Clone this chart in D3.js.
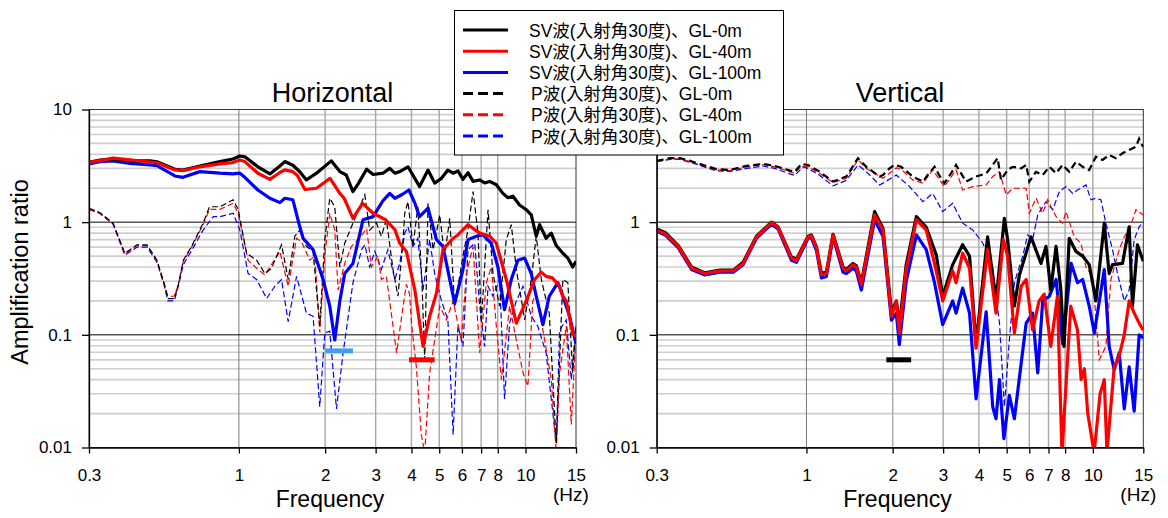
<!DOCTYPE html>
<html>
<head>
 <meta charset="UTF-8">
 <title>Amplification ratio</title>
 <script src="https://d3js.org/d3.v7.min.js"></script>
 <style>
  body { margin: 0; background: #fff; }
  text { font-family: "Liberation Sans", Arial, "Noto Sans CJK JP", sans-serif; fill: #000; }
 </style>
</head>
<body>
<script type="text/javascript">
var freqTicks = [0.3, 1, 2, 3, 4, 5, 6, 7, 8, 10, 15];
var freqLabels = ["0.3", "1", "2", "3", "4", "5", "6", "7", "8", "10", "15"];
var freqGrid = [1, 2, 3, 4, 5, 6, 7, 8, 10];
var ampTicks = [10, 1, 0.1, 0.01];
var ampLabels = ["10", "1", "0.1", "0.01"];
var ampMajor = [1, 0.1];
var ampMinor = [0.02, 0.03, 0.04, 0.05, 0.06, 0.07, 0.08, 0.09,
                0.2, 0.3, 0.4, 0.5, 0.6, 0.7, 0.8, 0.9,
                2, 3, 4, 5, 6, 7, 8, 9];

var legendLabels = ["SV波(入射角30度)、GL-0m", "SV波(入射角30度)、GL-40m", "SV波(入射角30度)、GL-100m",
                    "P波(入射角30度)、GL-0m", "P波(入射角30度)、GL-40m", "P波(入射角30度)、GL-100m"];
var legendColors = ["#000000", "#ff0000", "#0000ff", "#000000", "#ff0000", "#0000ff"];
var legendDashed = [false, false, false, true, true, true];

// Horizontal: [frequency Hz, amplification]
var hSv0 = [[0.30,3.4],[0.327,3.55],[0.364,3.63],[0.417,3.5],[0.49,3.5],[0.518,3.44],[0.598,2.95],[0.638,2.9],[0.731,3.15],[0.859,3.45],[0.953,3.64],[1.008,3.87],[1.049,3.8],[1.165,3.1],[1.283,2.68],[1.39,3.15],[1.447,3.45],[1.543,3.2],[1.631,2.8],[1.72,2.37],[1.866,2.72],[2.10,3.5],[2.25,2.81],[2.37,2.62],[2.50,1.87],[2.61,2.2],[2.79,2.95],[2.94,2.65],[3.18,2.72],[3.36,3.0],[3.50,2.72],[3.64,2.81],[3.89,3.1],[4.27,2.07],[4.57,2.9],[4.82,2.22],[5.09,2.45],[5.36,2.9],[5.59,2.72],[5.81,2.85],[6.05,2.4],[6.30,2.75],[6.56,2.3],[6.92,2.37],[7.20,2.23],[7.50,2.3],[7.91,2.15],[8.34,1.8],[8.68,1.65],[9.04,1.7],[9.53,1.42],[10.06,1.29],[10.47,1.16],[10.9,0.75],[11.2,0.95],[11.8,0.72],[12.3,0.8],[12.8,0.62],[13.5,0.53],[14.05,0.48],[14.6,0.40],[15,0.45]];
var hSv40 = [[0.30,3.38],[0.364,3.7],[0.417,3.57],[0.518,3.37],[0.598,2.91],[0.638,2.87],[0.731,3.1],[0.859,3.29],[0.953,3.38],[1.008,3.57],[1.049,3.45],[1.165,2.72],[1.283,2.4],[1.39,2.76],[1.447,2.91],[1.543,2.81],[1.60,2.6],[1.70,1.95],[1.866,2.0],[2.08,2.45],[2.25,1.8],[2.33,1.63],[2.50,1.08],[2.70,1.47],[2.94,1.2],[3.25,1.05],[3.50,0.86],[3.64,0.65],[3.84,0.55],[4.11,0.25],[4.39,0.079],[4.63,0.146],[4.89,0.234],[5.15,0.57],[5.59,0.72],[5.81,0.77],[6.30,0.95],[6.92,0.80],[7.50,0.75],[7.91,0.65],[8.57,0.31],[9.29,0.127],[10.06,0.2],[10.76,0.31],[11.35,0.36],[11.8,0.33],[12.4,0.32],[13.15,0.27],[13.5,0.22],[13.87,0.2],[14.6,0.104],[15,0.096]];
var hSv100 = [[0.30,3.29],[0.327,3.44],[0.364,3.5],[0.417,3.33],[0.49,3.22],[0.518,3.18],[0.598,2.57],[0.638,2.5],[0.731,2.81],[0.859,2.72],[0.953,2.68],[1.008,2.72],[1.049,2.5],[1.165,1.93],[1.283,1.63],[1.39,1.49],[1.447,1.63],[1.543,1.58],[1.631,0.91],[1.675,0.72],[1.815,0.57],[1.967,0.31],[2.075,0.18],[2.16,0.09],[2.25,0.2],[2.34,0.35],[2.50,0.43],[2.71,1.05],[2.94,1.12],[3.18,1.55],[3.36,1.8],[3.50,1.63],[3.7,1.75],[3.92,1.93],[4.1,1.5],[4.27,1.12],[4.57,1.33],[4.89,0.70],[5.15,0.61],[5.66,0.19],[6.05,0.38],[6.30,0.70],[6.74,0.75],[7.10,0.77],[7.60,0.65],[8.01,0.40],[8.45,0.167],[8.92,0.31],[9.4,0.46],[9.93,0.48],[10.47,0.35],[10.9,0.22],[11.5,0.123],[12.1,0.22],[12.97,0.29],[13.5,0.22],[14.25,0.146],[15,0.083]];
var hP0 = [[0.30,1.33],[0.327,1.22],[0.364,0.98],[0.40,0.53],[0.441,0.63],[0.478,0.63],[0.518,0.46],[0.55,0.28],[0.565,0.21],[0.595,0.21],[0.615,0.28],[0.64,0.46],[0.684,0.61],[0.75,0.98],[0.79,1.37],[0.859,1.37],[0.955,1.58],[0.994,1.3],[1.064,0.53],[1.153,0.46],[1.232,0.35],[1.30,0.39],[1.409,0.63],[1.486,0.31],[1.567,0.75],[1.631,0.85],[1.72,0.61],[1.815,0.55],[1.915,0.119],[1.994,0.70],[2.075,1.63],[2.16,1.37],[2.25,0.40],[2.34,0.65],[2.50,0.98],[2.64,1.37],[2.75,1.75],[2.86,0.85],[3.02,0.98],[3.14,0.75],[3.27,1.05],[3.45,0.38],[3.59,0.22],[3.74,0.7],[3.79,1.2],[3.89,1.52],[4.05,0.61],[4.21,1.37],[4.35,0.3],[4.45,0.06],[4.57,1.47],[4.76,0.57],[5.02,1.16],[5.22,0.50],[5.44,1.08],[5.66,0.18],[6.05,0.50],[6.30,0.86],[6.56,1.87],[6.83,0.80],[7.01,0.127],[7.40,1.29],[7.70,0.35],[8.12,0.18],[8.57,0.7],[8.92,0.95],[9.29,0.38],[9.93,0.136],[10.47,0.31],[10.9,0.75],[11.35,0.31],[12.1,0.156],[12.8,0.011],[13.5,0.31],[14.05,0.29],[14.6,0.046],[15,0.12]];
var hP40 = [[0.30,1.3],[0.327,1.2],[0.364,0.97],[0.40,0.52],[0.441,0.62],[0.478,0.62],[0.518,0.45],[0.55,0.28],[0.565,0.22],[0.595,0.22],[0.615,0.28],[0.64,0.45],[0.684,0.6],[0.75,0.95],[0.79,1.3],[0.859,1.3],[0.955,1.47],[0.994,1.2],[1.077,0.46],[1.153,0.39],[1.232,0.34],[1.39,0.55],[1.486,0.27],[1.589,0.72],[1.654,0.67],[1.768,0.46],[1.84,0.50],[1.915,0.105],[1.994,0.51],[2.075,1.2],[2.16,0.85],[2.22,0.25],[2.34,0.43],[2.47,0.61],[2.61,0.70],[2.79,0.88],[2.90,0.40],[3.06,0.50],[3.14,0.31],[3.27,0.33],[3.55,0.069],[3.74,0.18],[3.84,0.28],[3.94,0.23],[4.0,0.127],[4.16,0.052],[4.33,0.013],[4.45,0.009],[4.63,0.046],[4.82,0.09],[5.02,0.18],[5.3,0.136],[5.59,0.2],[5.97,0.09],[6.22,0.35],[6.56,0.61],[6.92,0.069],[7.30,0.29],[7.60,0.40],[7.91,0.119],[8.24,0.04],[8.8,0.18],[9.29,0.09],[9.8,0.046],[10.19,0.035],[10.6,0.2],[10.9,0.23],[11.66,0.09],[12.3,0.04],[12.8,0.009],[13.15,0.046],[13.87,0.12],[14.44,0.016],[15,0.105]];
var hP100 = [[0.30,1.3],[0.327,1.2],[0.364,0.96],[0.40,0.51],[0.441,0.6],[0.478,0.6],[0.518,0.44],[0.55,0.27],[0.565,0.2],[0.595,0.2],[0.615,0.27],[0.64,0.42],[0.684,0.56],[0.75,0.85],[0.814,1.12],[0.859,1.12],[0.955,1.2],[1.008,0.85],[1.077,0.35],[1.153,0.31],[1.25,0.21],[1.335,0.27],[1.409,0.31],[1.486,0.131],[1.589,0.33],[1.72,0.156],[1.815,0.146],[1.915,0.023],[1.994,0.104],[2.075,0.108],[2.19,0.022],[2.31,0.069],[2.50,0.29],[2.68,0.57],[2.75,0.63],[2.86,0.40],[2.98,0.55],[3.14,0.38],[3.31,0.57],[3.50,0.31],[3.64,0.43],[3.79,0.8],[3.89,0.91],[4.05,0.61],[4.21,0.72],[4.39,0.25],[4.63,0.70],[4.82,0.35],[5.09,0.2],[5.36,0.136],[5.59,0.013],[5.81,0.12],[6.05,0.079],[6.30,0.57],[6.65,0.65],[6.92,0.18],[7.20,0.079],[7.40,0.27],[7.70,0.22],[8.12,0.31],[8.45,0.027],[8.8,0.127],[9.29,0.2],[9.80,0.27],[10.47,0.146],[11.04,0.119],[11.8,0.069],[12.46,0.02],[12.8,0.011],[13.15,0.11],[13.87,0.136],[14.44,0.04],[15,0.12]];

// Vertical
var vSv0 = [[0.30,0.87],[0.321,0.81],[0.357,0.62],[0.397,0.4],[0.442,0.355],[0.499,0.375],[0.555,0.375],[0.601,0.44],[0.669,0.75],[0.755,1.0],[0.796,0.91],[0.886,0.49],[0.923,0.47],[1.013,0.75],[1.04,0.77],[1.084,0.6],[1.128,0.35],[1.174,0.36],[1.238,0.78],[1.342,0.4],[1.378,0.38],[1.454,0.43],[1.493,0.41],[1.555,0.29],[1.73,1.24],[1.85,0.88],[1.98,0.16],[2.06,0.2],[2.11,0.12],[2.23,0.42],[2.42,1.12],[2.62,0.9],[2.84,0.51],[2.99,0.22],[3.24,0.42],[3.51,0.63],[3.71,0.5],[3.91,0.083],[4.29,0.74],[4.59,0.2],[4.91,1.08],[5.04,0.70],[5.32,0.18],[5.54,0.34],[6.08,0.74],[6.59,0.43],[6.86,0.61],[7.13,0.25],[7.44,0.61],[7.73,0.25],[7.93,0.079],[8.27,0.72],[8.73,0.55],[9.21,0.5],[9.71,0.42],[10.25,0.2],[10.96,0.98],[11.4,0.35],[11.71,0.42],[12.69,0.43],[13.39,0.91],[13.75,0.18],[14.31,0.63],[15,0.45]];
var vSv40 = [[0.30,0.85],[0.321,0.79],[0.357,0.61],[0.397,0.39],[0.442,0.35],[0.499,0.37],[0.555,0.37],[0.601,0.43],[0.669,0.74],[0.755,0.99],[0.796,0.90],[0.886,0.48],[0.923,0.46],[1.013,0.74],[1.04,0.76],[1.084,0.59],[1.128,0.34],[1.174,0.35],[1.238,0.77],[1.342,0.39],[1.378,0.37],[1.454,0.42],[1.493,0.40],[1.555,0.28],[1.73,1.16],[1.85,0.85],[1.98,0.146],[2.06,0.2],[2.11,0.104],[2.23,0.38],[2.42,1.05],[2.62,0.85],[2.8,0.43],[2.99,0.2],[3.24,0.37],[3.33,0.29],[3.51,0.53],[3.71,0.39],[3.91,0.076],[4.29,0.57],[4.59,0.156],[4.87,0.70],[5.04,0.5],[5.32,0.104],[5.62,0.27],[5.85,0.31],[6.16,0.11],[6.49,0.2],[6.76,0.23],[7.13,0.079],[7.52,0.22],[7.8,0.009],[8.37,0.18],[8.84,0.11],[9.1,0.04],[9.34,0.05],[9.6,0.02],[10.1,0.009],[10.6,0.03],[10.96,0.04],[11.2,0.009],[11.87,0.052],[12.36,0.065],[12.87,0.1],[13.39,0.2],[13.94,0.156],[14.51,0.127],[15,0.11]];
var vSv100 = [[0.30,0.83],[0.321,0.77],[0.357,0.59],[0.397,0.38],[0.442,0.34],[0.499,0.36],[0.555,0.36],[0.601,0.42],[0.669,0.72],[0.755,0.96],[0.796,0.87],[0.886,0.46],[0.923,0.44],[1.013,0.72],[1.04,0.73],[1.084,0.56],[1.128,0.32],[1.174,0.33],[1.238,0.74],[1.342,0.36],[1.378,0.35],[1.454,0.39],[1.493,0.37],[1.555,0.25],[1.73,1.05],[1.85,0.75],[1.98,0.135],[2.06,0.156],[2.11,0.082],[2.23,0.3],[2.42,0.77],[2.62,0.57],[2.8,0.29],[2.99,0.123],[3.24,0.2],[3.33,0.156],[3.51,0.26],[3.71,0.156],[3.91,0.027],[4.24,0.16],[4.47,0.023],[4.59,0.018],[4.72,0.04],[4.89,0.012],[5.11,0.029],[5.32,0.018],[5.62,0.056],[5.85,0.127],[6.16,0.156],[6.42,0.046],[6.68,0.2],[7.05,0.22],[7.44,0.31],[7.84,0.083],[8.4,0.43],[8.84,0.29],[9.21,0.31],[9.71,0.18],[10.12,0.104],[10.96,0.38],[11.4,0.079],[11.87,0.049],[12.36,0.069],[12.87,0.022],[13.39,0.052],[13.94,0.021],[14.51,0.1],[15,0.094]];
var vP0 = [[0.30,3.5],[0.334,3.7],[0.362,3.7],[0.392,3.5],[0.486,2.95],[0.54,2.91],[0.618,3.16],[0.706,3.29],[0.775,3.16],[0.875,2.87],[0.91,2.8],[0.96,3.29],[1.013,3.22],[1.113,2.8],[1.238,2.29],[1.378,2.54],[1.513,3.7],[1.618,3.1],[1.80,2.54],[1.85,2.62],[1.95,3.0],[2.03,3.22],[2.14,3.1],[2.35,2.54],[2.55,2.29],[2.65,2.62],[2.8,3.1],[2.91,2.6],[3.03,2.22],[3.2,2.72],[3.33,3.22],[3.47,2.7],[3.61,2.29],[3.91,2.54],[4.24,2.7],[4.47,3.22],[4.65,3.7],[4.78,2.37],[5.04,2.91],[5.25,3.1],[5.62,3.0],[5.85,3.22],[6.0,2.29],[6.33,2.8],[6.68,2.62],[7.05,3.1],[7.44,2.72],[7.84,3.22],[8.27,2.8],[8.73,3.44],[9.21,3.1],[9.71,2.9],[10.25,3.81],[10.81,3.57],[11.4,3.95],[12.03,3.7],[12.69,4.09],[13.39,4.38],[14.13,4.67],[14.5,5.5],[14.71,5.0],[15,4.67]];
var vP40 = [[0.30,3.45],[0.334,3.65],[0.362,3.65],[0.392,3.45],[0.486,2.9],[0.54,2.87],[0.618,3.1],[0.706,3.25],[0.775,3.1],[0.875,2.8],[0.91,2.72],[0.96,3.15],[1.013,3.1],[1.113,2.7],[1.238,2.25],[1.378,2.45],[1.513,3.57],[1.618,3.0],[1.85,2.45],[2.06,3.03],[2.14,2.95],[2.35,2.37],[2.55,2.22],[2.76,2.91],[3.03,2.07],[3.33,2.91],[3.51,1.93],[3.81,2.07],[4.24,2.14],[4.47,2.54],[4.72,2.8],[4.98,1.75],[5.25,2.0],[5.85,2.0],[6.0,1.2],[6.33,1.63],[6.68,1.2],[6.95,1.58],[7.44,1.12],[7.84,0.98],[8.06,1.24],[8.61,0.74],[9.09,0.65],[9.46,0.40],[9.98,0.33],[10.53,0.06],[11.1,0.079],[11.56,0.31],[12.36,0.57],[12.87,0.74],[13.39,0.85],[14.13,1.29],[15,1.16]];
var vP100 = [[0.30,3.44],[0.334,3.6],[0.362,3.6],[0.392,3.4],[0.486,2.85],[0.54,2.82],[0.618,3.0],[0.706,3.15],[0.775,3.0],[0.875,2.68],[0.91,2.6],[0.973,3.1],[1.013,3.0],[1.113,2.6],[1.238,2.1],[1.378,2.35],[1.513,3.22],[1.618,2.8],[1.80,2.14],[1.85,2.22],[2.06,2.62],[2.29,2.07],[2.55,1.52],[2.76,1.8],[2.99,1.24],[3.24,1.47],[3.51,0.98],[3.81,0.85],[4.13,0.65],[4.47,0.40],[4.72,0.127],[4.91,0.023],[5.11,0.09],[5.32,0.29],[5.69,0.50],[5.92,0.77],[6.16,0.70],[6.42,1.16],[6.86,1.52],[7.24,1.29],[7.64,1.87],[8.06,2.07],[8.5,1.8],[8.84,1.93],[9.46,2.14],[9.85,1.58],[10.25,1.63],[10.67,1.58],[11.1,0.98],[11.71,0.57],[12.19,0.35],[12.87,0.2],[13.39,0.25],[13.94,0.7],[14.51,0.91],[15,1.0]];

// marker bars: [from Hz, to Hz, amplification]
var hBars = [[2.0, 2.5, 0.072], [3.92, 4.82, 0.06]];
var hBarColors = ["#40a0ee", "#ff0000"];
var vBars = [[1.9, 2.32, 0.06]];
var vBarColors = ["#000000"];

var width = 1168;
var height = 518;
var plotTop = 109.5;
var plotBottom = 447.5;

var svg = d3.select("body").append("svg")
    .attr("width", width)
    .attr("height", height);

function drawPanel(id, x0, x1, title, dashed, solid, bars, barColors, yTicks) {
    var x = d3.scaleLog().domain([0.3, 15]).range([x0, x1]);
    var y = d3.scaleLog().domain([0.01, 10]).range([plotBottom, plotTop]);
    var g = svg.append("g");

    g.append("clipPath").attr("id", "clip-" + id)
        .append("rect")
        .attr("x", x0).attr("y", plotTop)
        .attr("width", x1 - x0).attr("height", plotBottom - plotTop);

    g.selectAll("line.minor").data(ampMinor).enter().append("line")
        .attr("class", "minor")
        .attr("x1", x0).attr("x2", x1)
        .attr("y1", function (d) { return y(d); })
        .attr("y2", function (d) { return y(d); })
        .attr("stroke", "#cfcfcf").attr("stroke-width", 1.6);

    g.selectAll("line.vgrid").data(freqGrid).enter().append("line")
        .attr("class", "vgrid")
        .attr("x1", function (d) { return x(d); })
        .attr("x2", function (d) { return x(d); })
        .attr("y1", plotTop).attr("y2", plotBottom)
        .attr("stroke", function (d) { return d == 1 ? "#7a7a7a" : "#a8a8a8"; })
        .attr("stroke-width", function (d) { return d == 1 ? 1 : 1.4; });

    g.selectAll("line.major").data(ampMajor).enter().append("line")
        .attr("class", "major")
        .attr("x1", x0).attr("x2", x1)
        .attr("y1", function (d) { return y(d); })
        .attr("y2", function (d) { return y(d); })
        .attr("stroke", "#000").attr("stroke-width", 1);

    g.append("rect")
        .attr("x", x0).attr("y", plotTop)
        .attr("width", x1 - x0).attr("height", plotBottom - plotTop)
        .attr("fill", "none").attr("stroke", "#333").attr("stroke-width", 1);

    var line = d3.line()
        .x(function (d) { return x(d[0]); })
        .y(function (d) { return y(d[1]); });

    var lines = g.append("g").attr("clip-path", "url(#clip-" + id + ")");
    dashed.forEach(function (s) {
        lines.append("path")
            .attr("d", line(s.data))
            .attr("fill", "none")
            .attr("stroke", s.color)
            .attr("stroke-width", s.width)
            .attr("stroke-dasharray", s.dash);
    });
    solid.forEach(function (s) {
        lines.append("path")
            .attr("d", line(s.data))
            .attr("fill", "none")
            .attr("stroke", s.color)
            .attr("stroke-width", 3.2)
            .attr("stroke-linejoin", "round");
    });

    g.selectAll("line.bar").data(bars).enter().append("line")
        .attr("class", "bar")
        .attr("x1", function (d) { return x(d[0]); })
        .attr("x2", function (d) { return x(d[1]); })
        .attr("y1", function (d) { return y(d[2]); })
        .attr("y2", function (d) { return y(d[2]); })
        .attr("stroke", function (d, i) { return barColors[i]; })
        .attr("stroke-width", 5);

    var yAxis = d3.axisLeft(y)
        .tickValues(yTicks)
        .tickFormat(function (d) { return ampLabels[ampTicks.indexOf(d)]; })
        .tickSize(7).tickSizeOuter(0).tickPadding(10);
    var ya = g.append("g").attr("transform", "translate(" + x0 + ",0)").call(yAxis);
    var xAxis = d3.axisBottom(x)
        .tickValues(freqTicks)
        .tickFormat(function (d, i) { return freqLabels[i]; })
        .tickSize(6).tickSizeOuter(0).tickPadding(15);
    var xa = g.append("g").attr("transform", "translate(0," + plotBottom + ")").call(xAxis);
    [ya, xa].forEach(function (a) {
        a.attr("font-family", null).attr("font-size", 17);
        a.selectAll("path, line").attr("stroke", "#000").attr("stroke-width", 1.3);
    });

    var mid = (x0 + x1) / 2;
    g.append("text").attr("x", mid).attr("y", 102)
        .attr("text-anchor", "middle").attr("font-size", 27).text(title);
    g.append("text").attr("x", mid - 2.5).attr("y", 507)
        .attr("text-anchor", "middle").attr("font-size", 23).text("Frequency");
    g.append("text").attr("x", x1 - 5).attr("y", 501)
        .attr("text-anchor", "middle").attr("font-size", 19).text("(Hz)");
}

drawPanel("h", 89, 576, "Horizontal",
    [{data: hP100, color: "#0000ff", width: 1.2, dash: "6,3"},
     {data: hP40, color: "#ff0000", width: 1.2, dash: "6,3"},
     {data: hP0, color: "#000000", width: 1.2, dash: "6,3"}],
    [{data: hSv100, color: "#0000ff"},
     {data: hSv0, color: "#000000"},
     {data: hSv40, color: "#ff0000"}],
    hBars, hBarColors, ampTicks);

// the "10" label of the right panel sits under the legend, so it is left out
drawPanel("v", 656.7, 1143.3, "Vertical",
    [{data: vP100, color: "#0000ff", width: 1.2, dash: "6,3"},
     {data: vP40, color: "#ff0000", width: 1.2, dash: "6,3"},
     {data: vP0, color: "#000000", width: 2.2, dash: "7,4"}],
    [{data: vSv100, color: "#0000ff"},
     {data: vSv0, color: "#000000"},
     {data: vSv40, color: "#ff0000"}],
    vBars, vBarColors, [1, 0.1, 0.01]);

svg.append("text")
    .attr("transform", "translate(28,272) rotate(-90)")
    .attr("text-anchor", "middle").attr("font-size", 23.5)
    .text("Amplification ratio");

// legend
var legend = svg.append("g");
legend.append("rect")
    .attr("x", 454.5).attr("y", 10.5).attr("width", 329).attr("height", 144.5)
    .attr("fill", "#fff").attr("stroke", "#000").attr("stroke-width", 1);
var rows = legend.selectAll("g.row").data(legendLabels).enter().append("g")
    .attr("class", "row")
    .attr("transform", function (d, i) { return "translate(0," + (30 + i * 21.2) + ")"; });
rows.append("line")
    .attr("x1", 463).attr("x2", 508).attr("y1", 0).attr("y2", 0)
    .attr("stroke", function (d, i) { return legendColors[i]; })
    .attr("stroke-width", 3)
    .attr("stroke-dasharray", function (d, i) { return legendDashed[i] ? "10,5" : null; });
rows.append("text")
    .attr("x", function (d, i) { return i < 3 ? 529 : 531; })
    .attr("y", 6.5)
    .attr("font-size", 17.5)
    .text(function (d) { return d; });
</script>
</body>
</html>
